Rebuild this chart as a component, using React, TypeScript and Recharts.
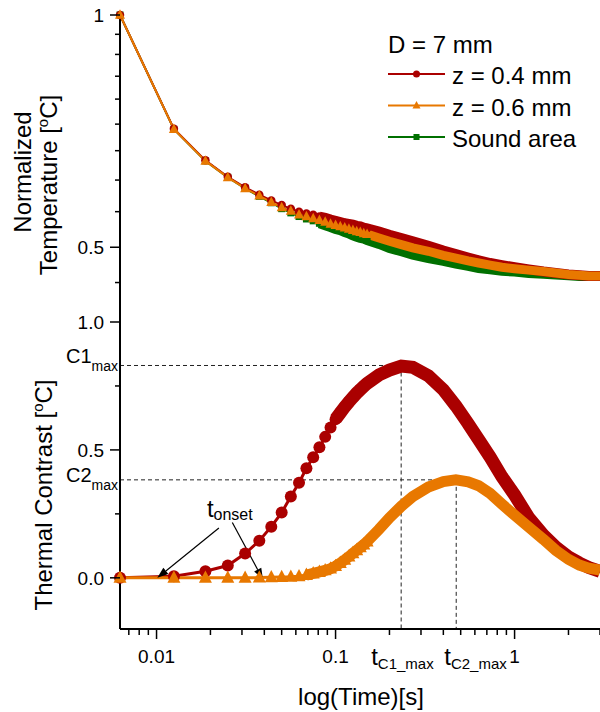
import React from "react";
import { LineChart, Line, XAxis, YAxis, ReferenceLine } from "recharts";

// time axis (s): every frame up to 0.15 s, thinned afterwards
const timeS = [
  0.00625, 0.0125, 0.01875, 0.025, 0.03125, 0.0375, 0.04375, 0.05, 0.05625, 0.0625,
  0.06875, 0.075, 0.08125, 0.0875, 0.09375, 0.1, 0.10625, 0.1125, 0.11875, 0.125,
  0.13125, 0.1375, 0.14375, 0.15, 0.175, 0.2, 0.233, 0.27, 0.33, 0.4,
  0.47, 0.55, 0.63, 0.73, 0.85, 1.0, 1.2, 1.45, 1.7, 2.0,
  2.3, 2.6, 3.0,
];

// normalized temperature
const tempZ04 = [
  1, 0.712, 0.648, 0.617, 0.598, 0.585, 0.575, 0.567, 0.561, 0.556,
  0.553, 0.551, 0.548, 0.546, 0.543, 0.541, 0.539, 0.537, 0.536, 0.535,
  0.533, 0.532, 0.53, 0.529, 0.524, 0.519, 0.514, 0.509, 0.502, 0.495,
  0.49, 0.485, 0.481, 0.477, 0.474, 0.471, 0.468, 0.465, 0.463, 0.461,
  0.46, 0.459, 0.459,
];
const tempZ06 = [
  1, 0.711, 0.647, 0.616, 0.596, 0.583, 0.572, 0.563, 0.557, 0.551,
  0.548, 0.545, 0.542, 0.539, 0.536, 0.534, 0.532, 0.53, 0.528, 0.526,
  0.524, 0.523, 0.521, 0.52, 0.514, 0.509, 0.504, 0.499, 0.494, 0.488,
  0.484, 0.48, 0.477, 0.474, 0.471, 0.469, 0.467, 0.465, 0.463, 0.461,
  0.46, 0.459, 0.459,
];
const tempSound = [
  1, 0.711, 0.647, 0.616, 0.596, 0.582, 0.571, 0.561, 0.554, 0.548,
  0.544, 0.541, 0.537, 0.534, 0.531, 0.528, 0.526, 0.523, 0.521, 0.518,
  0.516, 0.514, 0.513, 0.511, 0.505, 0.499, 0.494, 0.489, 0.484, 0.48,
  0.476, 0.473, 0.47, 0.468, 0.466, 0.465, 0.463, 0.462, 0.461, 0.46,
  0.459, 0.459, 0.459,
];

// thermal contrast
const contrastZ04 = [
  0, 0.006, 0.026, 0.048, 0.095, 0.145, 0.2, 0.255, 0.318, 0.372,
  0.428, 0.471, 0.51, 0.551, 0.588, 0.62, 0.645, 0.668, 0.688, 0.706,
  0.722, 0.736, 0.749, 0.76, 0.793, 0.812, 0.828, 0.823, 0.79, 0.735,
  0.672, 0.603, 0.54, 0.472, 0.395, 0.324, 0.235, 0.167, 0.12, 0.082,
  0.058, 0.04, 0.025,
];
const contrastZ06 = [
  0, 0, 0, 0, 0, 0.001, 0.002, 0.003, 0.004, 0.006,
  0.011, 0.017, 0.023, 0.029, 0.036, 0.046, 0.058, 0.07, 0.083, 0.096,
  0.108, 0.119, 0.13, 0.142, 0.19, 0.235, 0.28, 0.318, 0.355, 0.376,
  0.383, 0.375, 0.36, 0.33, 0.288, 0.245, 0.198, 0.15, 0.107, 0.072,
  0.05, 0.038, 0.03,
];

// axes
const tMin = 0.00625;
const tMax = 3;
const xMajorTicks = [0.01, 0.1, 1];
const xMinorTicks = [
  0.007, 0.008, 0.009, 0.02, 0.03, 0.04, 0.05, 0.06, 0.07, 0.08, 0.09,
  0.2, 0.3, 0.4, 0.5, 0.6, 0.7, 0.8, 0.9, 2, 3,
];
const tempTicks = [0.45, 0.5, 0.556, 0.611, 0.667, 0.722, 0.778, 0.833, 0.889, 0.944, 1];
const tempLabels: Record<string, string> = { "1": "1", "0.5": "0.5" };
const contrastTicks = [0, 0.25, 0.5, 0.75, 1];
const contrastLabels: Record<string, string> = { "0": "0.0", "0.5": "0.5", "1": "1.0" };

// annotations
const c1Max = 0.83;
const tC1Max = 0.2325;
const c2Max = 0.383;
const tC2Max = 0.472;
const onsetArrows = [
  { fromT: 0.0223, fromC: 0.195, toT: 0.0101, toC: 0 },
  { fromT: 0.0265, fromC: 0.216, toT: 0.0393, toC: -0.006 },
];

const FONT = "'Liberation Sans', Arial, Helvetica, sans-serif";
const RED = "#AA0000";
const ORANGE = "#E87800";
const GREEN = "#007000";

const denseCount = 24; // points that still show separate markers

const topData = timeS.map((t, i) => ({
  t,
  z04: tempZ04[i],
  z06: tempZ06[i],
  sound: tempSound[i],
  z04Band: i >= 12 ? tempZ04[i] : null,
  z06Band: i >= 12 ? tempZ06[i] : null,
  soundBand: i >= 12 ? tempSound[i] : null,
}));

const bottomData = timeS.map((t, i) => ({
  t,
  z04: contrastZ04[i],
  z06: contrastZ06[i],
  z04Band: i >= 15 ? contrastZ04[i] : null,
  z06Band: i >= 10 ? contrastZ06[i] : null,
}));

function Marker({ shape, cx, cy, size, color }: any) {
  if (shape === "circle") return <circle cx={cx} cy={cy} r={size / 2} fill={color} />;
  if (shape === "square")
    return <rect x={cx - size / 2} y={cy - size / 2} width={size} height={size} fill={color} />;
  const h = size * 0.95;
  return (
    <polygon
      points={`${cx},${cy - h * 0.6} ${cx - size / 2},${cy + h * 0.4} ${cx + size / 2},${cy + h * 0.4}`}
      fill={color}
    />
  );
}

const makeDot = (shape: string, size: number, color: string) => (props: any) => {
  const { cx, cy, index } = props;
  if (index >= denseCount || cx == null || cy == null) return <g key={`dot-${index}`} />;
  return (
    <g key={`dot-${index}`}>
      <Marker shape={shape} cx={cx} cy={cy} size={size} color={color} />
    </g>
  );
};

const frameTick = (props: any) => {
  const { x, y, payload } = props;
  const len = xMajorTicks.includes(payload.value) ? 5 : 3;
  return <line x1={x} y1={y} x2={x} y2={y + len} stroke="#000" strokeWidth={1} />;
};

const yTick = (labels: Record<string, string>) => (props: any) => {
  const { x, y, payload } = props;
  const v = payload.value;
  if (v === c1Max || v === c2Max) {
    const name = v === c1Max ? "C1" : "C2";
    return (
      <text x={x - 2} y={y + (v === c1Max ? -2 : 2)} textAnchor="end" fontFamily={FONT} fill="#000">
        <tspan fontSize={20}>{name}</tspan>
        <tspan fontSize={14} dy={8}>max</tspan>
      </text>
    );
  }
  const label = labels[String(v)];
  const len = label ? 10 : 5;
  return (
    <g>
      <line x1={x} y1={y} x2={x - len} y2={y} stroke="#000" strokeWidth={1.5} />
      {label && (
        <text x={x - len - 6} y={y} dy={7} textAnchor="end" fontSize={19} fontFamily={FONT} fill="#000">
          {label}
        </text>
      )}
    </g>
  );
};

const xTick = (props: any) => {
  const { x, y, payload } = props;
  const v = payload.value;
  if (v === tC1Max || v === tC2Max) {
    const sub = v === tC1Max ? "C1_max" : "C2_max";
    const start = v === tC1Max ? x - 30 : x - 12;
    return (
      <text x={start} y={y + 36} fontFamily={FONT} fill="#000">
        <tspan fontSize={24}>t</tspan>
        <tspan fontSize={15} dy={4}>{sub}</tspan>
      </text>
    );
  }
  const major = xMajorTicks.includes(v);
  return (
    <g>
      <line x1={x} y1={y} x2={x} y2={y + (major ? 10 : 6)} stroke="#000" strokeWidth={1.5} />
      {major && (
        <text x={x} y={y + 34} textAnchor="middle" fontSize={19} fontFamily={FONT} fill="#000">
          {String(v)}
        </text>
      )}
    </g>
  );
};

const arrowShape = (withLabel: boolean) => (props: any) => {
  const { x1, y1, x2, y2 } = props;
  const ang = Math.atan2(y2 - y1, x2 - x1);
  const L = 11;
  const W = 4;
  const bx = x2 - L * Math.cos(ang);
  const by = y2 - L * Math.sin(ang);
  const px = -Math.sin(ang) * W;
  const py = Math.cos(ang) * W;
  return (
    <g>
      <line x1={x1} y1={y1} x2={bx} y2={by} stroke="#000" strokeWidth={1.2} />
      <polygon points={`${x2},${y2} ${bx + px},${by + py} ${bx - px},${by - py}`} fill="#000" />
      {withLabel && (
        <text x={x1 - 12} y={y1 - 11} fontFamily={FONT} fill="#000">
          <tspan fontSize={24}>t</tspan>
          <tspan fontSize={16} dy={3}>onset</tspan>
        </text>
      )}
    </g>
  );
};

const axisLine = { stroke: "#000", strokeWidth: 2 };

function TopPanel() {
  return (
    <LineChart width={600} height={330} data={topData} margin={{ top: 15, right: 0, bottom: 8, left: 0 }}>
      <XAxis
        dataKey="t"
        type="number"
        scale="log"
        domain={[tMin, tMax]}
        orientation="top"
        height={0}
        ticks={[...xMinorTicks, ...xMajorTicks].sort((a, b) => a - b)}
        interval={0}
        tickSize={0}
        tickMargin={0}
        tickLine={false}
        axisLine={axisLine}
        tick={frameTick}
      />
      <YAxis
        type="number"
        scale="log"
        domain={[0.4, 1]}
        width={120}
        ticks={tempTicks}
        interval={0}
        tickSize={0}
        tickMargin={0}
        tickLine={false}
        axisLine={axisLine}
        tick={yTick(tempLabels)}
      />
      <Line dataKey="soundBand" stroke={GREEN} strokeWidth={10} dot={false} legendType="none" isAnimationActive={false} />
      <Line dataKey="sound" stroke={GREEN} strokeWidth={2} dot={makeDot("square", 7, GREEN)} isAnimationActive={false} />
      <Line dataKey="z04Band" stroke={RED} strokeWidth={10} dot={false} legendType="none" isAnimationActive={false} />
      <Line dataKey="z04" stroke={RED} strokeWidth={2} dot={makeDot("circle", 8.5, RED)} isAnimationActive={false} />
      <Line dataKey="z06Band" stroke={ORANGE} strokeWidth={9} dot={false} legendType="none" isAnimationActive={false} />
      <Line dataKey="z06" stroke={ORANGE} strokeWidth={2} dot={makeDot("triangle", 10, ORANGE)} isAnimationActive={false} />
    </LineChart>
  );
}

function BottomPanel() {
  return (
    <LineChart width={600} height={712} data={bottomData} margin={{ top: 322, right: 0, bottom: 43, left: 0 }}>
      <XAxis
        dataKey="t"
        type="number"
        scale="log"
        domain={[tMin, tMax]}
        height={40}
        ticks={[...xMinorTicks, ...xMajorTicks, tC1Max, tC2Max].sort((a, b) => a - b)}
        interval={0}
        tickSize={0}
        tickMargin={0}
        tickLine={false}
        axisLine={axisLine}
        tick={xTick}
      />
      <XAxis
        xAxisId="frame"
        dataKey="t"
        type="number"
        scale="log"
        domain={[tMin, tMax]}
        orientation="top"
        height={0}
        ticks={[...xMinorTicks, ...xMajorTicks].sort((a, b) => a - b)}
        interval={0}
        tickSize={0}
        tickMargin={0}
        tickLine={false}
        axisLine={axisLine}
        tick={frameTick}
      />
      <YAxis
        type="number"
        domain={[-0.2, 1]}
        width={120}
        ticks={[...contrastTicks, c1Max, c2Max].sort((a, b) => a - b)}
        interval={0}
        tickSize={0}
        tickMargin={0}
        tickLine={false}
        axisLine={axisLine}
        tick={yTick(contrastLabels)}
      />
      <ReferenceLine segment={[{ x: tMin, y: c1Max }, { x: tC1Max, y: c1Max }]} stroke="#222" strokeDasharray="4 3" />
      <ReferenceLine segment={[{ x: tC1Max, y: c1Max }, { x: tC1Max, y: -0.2 }]} stroke="#222" strokeDasharray="4 3" />
      <ReferenceLine segment={[{ x: tMin, y: c2Max }, { x: tC2Max, y: c2Max }]} stroke="#222" strokeDasharray="4 3" />
      <ReferenceLine segment={[{ x: tC2Max, y: c2Max }, { x: tC2Max, y: -0.2 }]} stroke="#222" strokeDasharray="4 3" />
      <Line dataKey="z04Band" stroke={RED} strokeWidth={13} dot={false} legendType="none" isAnimationActive={false} />
      <Line dataKey="z04" stroke={RED} strokeWidth={3} dot={makeDot("circle", 12, RED)} isAnimationActive={false} />
      <Line dataKey="z06Band" stroke={ORANGE} strokeWidth={11} dot={false} legendType="none" isAnimationActive={false} />
      <Line dataKey="z06" stroke={ORANGE} strokeWidth={3} dot={makeDot("triangle", 13, ORANGE)} isAnimationActive={false} />
      {onsetArrows.map((a, i) => (
        <ReferenceLine
          key={`arrow-${i}`}
          segment={[{ x: a.fromT, y: a.fromC }, { x: a.toT, y: a.toC }]}
          shape={arrowShape(i === 0)}
        />
      ))}
    </LineChart>
  );
}

const legendRows = [
  { name: "z = 0.4 mm", color: RED, shape: "circle", size: 7 },
  { name: "z = 0.6 mm", color: ORANGE, shape: "triangle", size: 8 },
  { name: "Sound area", color: GREEN, shape: "square", size: 6 },
];

function Overlay() {
  return (
    <svg width={600} height={712} style={{ position: "absolute", left: 0, top: 0, pointerEvents: "none" }}>
      <g fontFamily={FONT} fill="#000">
        <text x={388} y={53} fontSize={24}>D = 7 mm</text>
        {legendRows.map((r, i) => {
          const y = 74 + i * 31.5;
          return (
            <g key={r.name}>
              <line x1={388} x2={445} y1={y} y2={y} stroke={r.color} strokeWidth={2} />
              <Marker shape={r.shape} cx={416.5} cy={y} size={r.size} color={r.color} />
              <text x={452} y={y + 10} fontSize={24}>{r.name}</text>
            </g>
          );
        })}
        <text x={361} y={705} fontSize={24} textAnchor="middle">log(Time)[s]</text>
        <text x={31} y={172} fontSize={24} textAnchor="middle" transform="rotate(-90 31 172)">Normalized</text>
        <text x={57} y={185} fontSize={24} textAnchor="middle" transform="rotate(-90 57 185)">
          Temperature [<tspan fontSize={15} dy={-9}>o</tspan><tspan dy={9}>C]</tspan>
        </text>
        <text x={52} y={495} fontSize={24} textAnchor="middle" transform="rotate(-90 52 495)">
          Thermal Contrast [<tspan fontSize={15} dy={-9}>o</tspan><tspan dy={9}>C]</tspan>
        </text>
      </g>
    </svg>
  );
}

export default function App() {
  return (
    <div style={{ position: "absolute", left: 0, top: 0, width: 600, height: 712, background: "#fff", overflow: "hidden" }}>
      <div style={{ position: "absolute", left: 0, top: 0 }}>
        <TopPanel />
      </div>
      <div style={{ position: "absolute", left: 0, top: 0 }}>
        <BottomPanel />
      </div>
      <Overlay />
    </div>
  );
}
